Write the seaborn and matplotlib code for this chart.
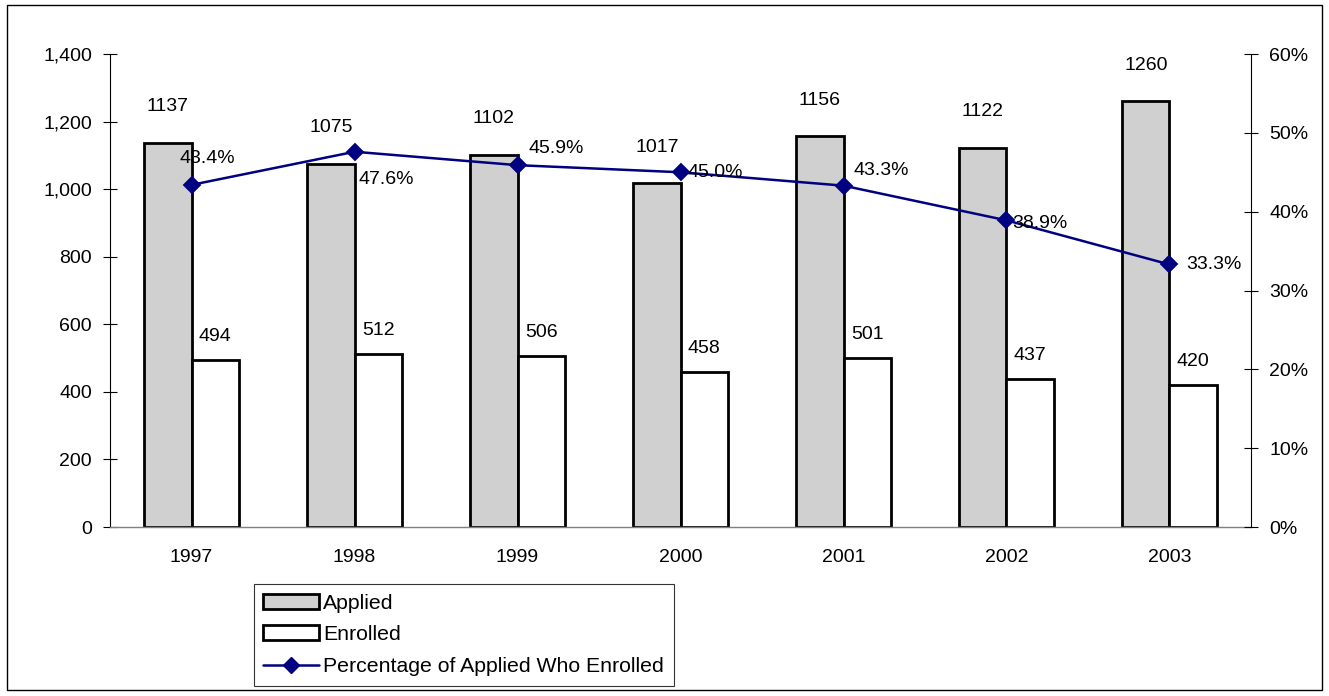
import matplotlib
matplotlib.use("Agg")
import matplotlib.pyplot as plt
import seaborn as sns
import pandas as pd
import numpy as np
from matplotlib.patches import Rectangle
from matplotlib.lines import Line2D
from matplotlib.ticker import FuncFormatter

years = ["1997", "1998", "1999", "2000", "2001", "2002", "2003"]
applied = [1137, 1075, 1102, 1017, 1156, 1122, 1260]
enrolled = [494, 512, 506, 458, 501, 437, 420]
pct = [43.4, 47.6, 45.9, 45.0, 43.3, 38.9, 33.3]
pct_labels = ["43.4%", "47.6%", "45.9%", "45.0%", "43.3%", "38.9%", "33.3%"]
series_names = ["Applied", "Enrolled"]
line_name = "Percentage of Applied Who Enrolled"

# label offsets for percentage labels (points)
pct_offsets = [(-9, 19), (3, -20), (8, 12), (5, 0), (7, 11), (4, -2), (12, 0)]

sns.set_style("white")
plt.rcParams['font.family'] = ['Liberation Sans', 'DejaVu Sans']
plt.rcParams['text.color'] = 'black'
plt.rcParams['xtick.color'] = 'black'
plt.rcParams['ytick.color'] = 'black'
plt.rcParams['axes.labelcolor'] = 'black'

FS = 14

df = pd.DataFrame({
    "year": years * 2,
    "value": applied + enrolled,
    "series": [series_names[0]] * len(years) + [series_names[1]] * len(years),
})

fig = plt.figure(figsize=(13.29, 6.96), dpi=100)
ax = fig.add_axes([0.0828, 0.2428, 0.8585, 0.6796])

bar_colors = {"Applied": "#d0d0d0", "Enrolled": "#ffffff"}
sns.barplot(data=df, x="year", y="value", hue="series", order=years,
            hue_order=series_names, palette=bar_colors, width=0.58,
            edgecolor="black", linewidth=2.0, ax=ax, legend=False, saturation=1)

ax.set_xlim(-0.5, 6.5)
ax.set_ylim(0, 1400)
ax.set_yticks(range(0, 1401, 200))
ax.yaxis.set_major_formatter(FuncFormatter(lambda v, p: f"{int(v):,}"))
ax.set_xlabel("")
ax.set_ylabel("")
ax.tick_params(axis="y", direction="inout", length=10, width=0.8, labelsize=FS, pad=8, left=True)
ax.tick_params(axis="x", length=0, labelsize=FS, pad=16)
for s in ["top", "right"]:
    ax.spines[s].set_visible(False)
ax.spines["left"].set_color("black")
ax.spines["left"].set_linewidth(0.8)
ax.spines["bottom"].set_color("#808080")
ax.spines["bottom"].set_linewidth(1.0)

# value labels
for cont, vals, off in zip(ax.containers, [applied, enrolled], [26, 17]):
    for rect, v in zip(cont, vals):
        ax.annotate(str(v), (rect.get_x() + rect.get_width() / 2, rect.get_height()),
                    xytext=(0, off), textcoords="offset points",
                    ha="center", va="center", fontsize=FS)

ax2 = ax.twinx()
pdf = pd.DataFrame({"year": years, "pct": pct})
sns.pointplot(data=pdf, x="year", y="pct", order=years, color="#000080",
              markers="D", markersize=8, linewidth=1.8, ax=ax2)
ax2.set_xlim(-0.5, 6.5)
ax2.set_ylim(0, 60)
ax2.set_yticks(range(0, 61, 10))
ax2.yaxis.set_major_formatter(FuncFormatter(lambda v, p: f"{int(v)}%"))
ax2.set_ylabel("")
ax2.set_xlabel("")
ax2.tick_params(axis="y", direction="inout", length=10, width=0.8, labelsize=FS, pad=8, right=True)
for s in ["top", "left", "bottom"]:
    ax2.spines[s].set_visible(False)
ax2.spines["right"].set_color("black")
ax2.spines["right"].set_linewidth(0.8)

for i, (v, lab, off) in enumerate(zip(pct, pct_labels, pct_offsets)):
    ax2.annotate(lab, (i, v), xytext=off, textcoords="offset points",
                 ha="left", va="center", fontsize=FS)

handles = [
    Rectangle((0, 0), 1, 1, facecolor=bar_colors["Applied"], edgecolor="black", linewidth=2.0),
    Rectangle((0, 0), 1, 1, facecolor=bar_colors["Enrolled"], edgecolor="black", linewidth=2.0),
    Line2D([0], [0], color="#000080", marker="D", markersize=8, linewidth=1.8),
]
leg = fig.legend(handles, series_names + [line_name], loc="upper left",
                 bbox_to_anchor=(0.191, 0.161), fontsize=15.3, frameon=True,
                 fancybox=False, edgecolor="black", handlelength=2.6,
                 handletextpad=0.22, labelspacing=0.6, borderpad=0.45,
                 borderaxespad=0)
leg.get_frame().set_linewidth(0.8)

fig.patches.append(Rectangle((0.005, 0.008), 0.99, 0.985, transform=fig.transFigure,
                             fill=False, edgecolor="black", linewidth=1.0))

fig.savefig("out.png", dpi=100)
